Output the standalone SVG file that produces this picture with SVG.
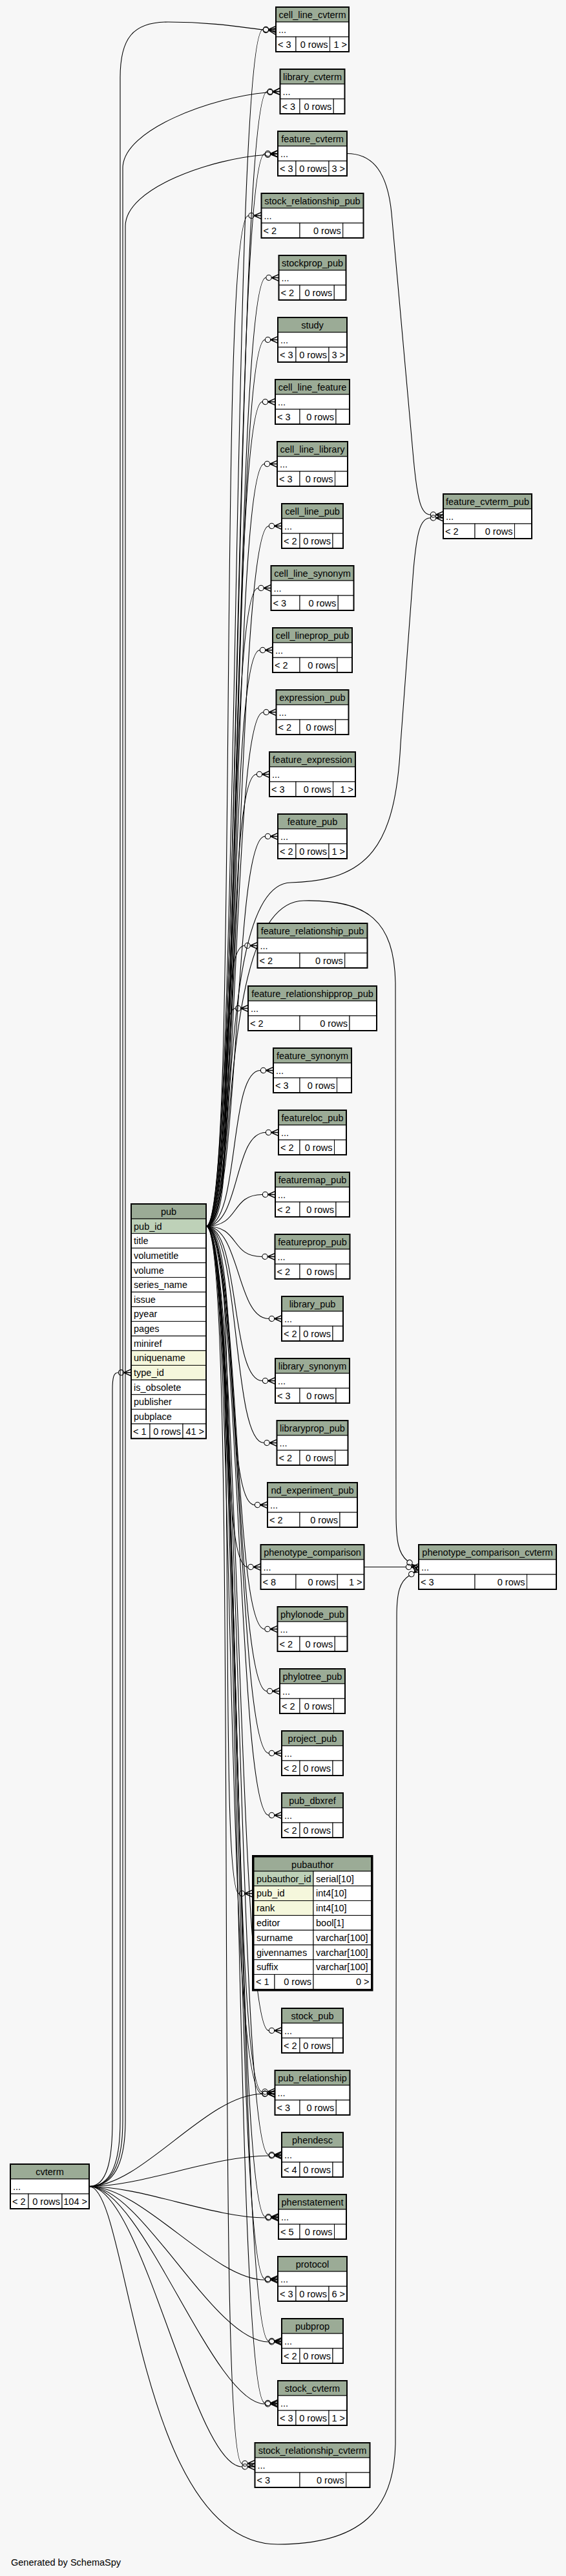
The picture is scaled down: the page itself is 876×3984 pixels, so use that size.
<svg xmlns="http://www.w3.org/2000/svg" width="876" height="3984" viewBox="0 0 876 3984">
<defs>
<style>
.h{fill:#9bab96;stroke:#000;stroke-width:1}
.w{fill:#fff;stroke:#000;stroke-width:1}
.k{fill:#bed1b8;stroke:#000;stroke-width:1}
.y{fill:#f5f7dc;stroke:#000;stroke-width:1}
.o{fill:none;stroke:#000;stroke-width:2}
text{font-family:"Liberation Sans",Arial,Helvetica,sans-serif;font-size:14.5px;fill:#000}
.c{text-anchor:middle}
.r{text-anchor:end}
.e{fill:none;stroke:#000;stroke-width:1.1;marker-end:url(#m)}
.p{fill:none;stroke:#000;stroke-width:1.1}
</style>
<marker id="m" markerUnits="userSpaceOnUse" markerWidth="22" markerHeight="14" refX="0" refY="7" orient="auto" overflow="visible">
<circle cx="4.5" cy="7" r="4.2" fill="none" stroke="#000" stroke-width="1.1"/>
<path d="M8.7,7 L20,1.8 M8.7,7 L20,7 M8.7,7 L20,12.2" fill="none" stroke="#000" stroke-width="1.4"/>
</marker>
</defs>
<rect x="0" y="0" width="876" height="3984" fill="#f7f7f7"/>

<g id="connectors">
<!-- pub edges -->
<path class="e" d="M319,1896.5 C372,1896.5 357,45.5 407,45.5"/>
<path class="e" d="M319,1896.5 C372,1896.5 363.5,141.5 413.5,141.5"/>
<path class="e" d="M319,1896.5 C372,1896.5 360,237.5 410,237.5"/>
<path class="e" d="M319,1896.5 C372,1896.5 334.5,333.5 384.5,333.5"/>
<path class="e" d="M319,1896.5 C372,1896.5 361.5,429.5 411.5,429.5"/>
<path class="e" d="M319,1896.5 C372,1896.5 360,525.5 410,525.5"/>
<path class="e" d="M319,1896.5 C372,1896.5 356,621.5 406,621.5"/>
<path class="e" d="M319,1896.5 C372,1896.5 359,717.5 409,717.5"/>
<path class="e" d="M319,1896.5 C372,1896.5 366,813.5 416,813.5"/>
<path class="e" d="M319,1896.5 C372,1896.5 349.5,909.5 399.5,909.5"/>
<path class="e" d="M319,1896.5 C372,1896.5 352,1005.5 402,1005.5"/>
<path class="e" d="M319,1896.5 C372,1896.5 357.5,1101.5 407.5,1101.5"/>
<path class="e" d="M319,1896.5 C372,1896.5 347,1197.5 397,1197.5"/>
<path class="e" d="M319,1896.5 C372,1896.5 360,1293.5 410,1293.5"/>
<path class="e" d="M319,1896.5 C372,1896.5 330,1462.5 378.5,1462.5"/>
<path class="e" d="M319,1896.5 C372,1896.5 330,1559.5 364,1559.5"/>
<path class="e" d="M319,1896.5 C372,1896.5 353,1655.5 403,1655.5"/>
<path class="e" d="M319,1896.5 C372,1896.5 361,1751.5 411,1751.5"/>
<path class="e" d="M319,1896.5 C372,1896.5 356,1847.5 406,1847.5"/>
<path class="e" d="M319,1896.5 C372,1896.5 355.5,1943.5 405.5,1943.5"/>
<path class="e" d="M319,1896.5 C372,1896.5 366,2039.5 416,2039.5"/>
<path class="e" d="M319,1896.5 C372,1896.5 356,2135.5 406,2135.5"/>
<path class="e" d="M319,1896.5 C372,1896.5 358.5,2231.5 408.5,2231.5"/>
<path class="e" d="M319,1896.5 C372,1896.5 344,2327.5 394,2327.5"/>
<path class="e" d="M319,1896.5 C372,1896.5 333.5,2423.5 383.5,2423.5"/>
<path class="e" d="M319,1896.5 C372,1896.5 359.5,2519.5 409.5,2519.5"/>
<path class="e" d="M319,1896.5 C372,1896.5 363,2615.5 413,2615.5"/>
<path class="e" d="M319,1896.5 C372,1896.5 366,2711.5 416,2711.5"/>
<path class="e" d="M319,1896.5 C372,1896.5 366,2807.5 416,2807.5"/>
<path class="e" d="M319,1896.5 C372,1896.5 335,2928.5 370,2928.5"/>
<path class="e" d="M319,1896.5 C372,1896.5 366,3140.5 416,3140.5"/>
<path class="e" d="M319,1896.5 C372,1896.5 355.5,3235 405.5,3235"/>
<path class="e" d="M319,1896.5 C365,1896.5 345,3238 405.5,3238"/>
<path class="e" d="M319,1896.5 C372,1896.5 366,3332.5 416,3332.5"/>
<path class="e" d="M319,1896.5 C372,1896.5 361,3428.5 411,3428.5"/>
<path class="e" d="M319,1896.5 C372,1896.5 360,3524.5 410,3524.5"/>
<path class="e" d="M319,1896.5 C372,1896.5 366,3620.5 416,3620.5"/>
<path class="e" d="M319,1896.5 C372,1896.5 360,3716.5 410,3716.5"/>
<path class="e" d="M319,1896.5 C372,1896.5 330,3810 374.5,3810"/>
<path class="e" d="M319,1896.5 C372,1896.5 330,1367 450,1365 C570,1362 612,1310 620,1150 L640,880 C645,825 650,801 666,801"/>
<path class="e" d="M319,1896.5 C372,1896.5 330,1395 470,1393 C570,1391 610,1425 612,1520 L613,2340 C613,2385 617,2403 630.5,2414"/>
<!-- cvterm edges -->
<path class="e" d="M138,3381.5 C170,3381.5 186,3350 186,3280 L186,120 C186,60 205,34 260,34 C330,34 380,43 407,46"/>
<path class="e" d="M138,3381.5 C172,3381.5 190,3350 190,3280 L190,260 C190,200 330,150 413.5,143"/>
<path class="e" d="M138,3381.5 C174,3381.5 194,3350 194,3280 L194,350 C194,290 330,245 410,239.5"/>
<path class="e" d="M138,3381.5 C166,3381.5 174,3340 174,3280 L174,2150 C174,2130 176,2122.8 183,2122.8"/>
<path class="e" d="M138,3381.5 C220,3381.5 320,3238.5 405.5,3238.5"/>
<path class="e" d="M138,3381.5 C220,3381.5 330,3334 416,3334"/>
<path class="e" d="M138,3381.5 C220,3381.5 330,3430 411,3430"/>
<path class="e" d="M138,3381.5 C220,3381.5 330,3526 410,3526"/>
<path class="e" d="M138,3381.5 C220,3381.5 330,3622 416,3622"/>
<path class="e" d="M138,3381.5 C220,3381.5 330,3718 410,3718"/>
<path class="e" d="M138,3381.5 C220,3381.5 300,3815 374.5,3815"/>
<path class="e" d="M138,3381.5 C200,3381.5 210,3935 430,3935 C560,3935 610,3880 612,3780 L614,2500 C614,2462 619,2446 633,2437"/>
<!-- other edges -->
<path class="e" d="M537,237.5 C578,237.5 600,268 606,330 L640,710 C646,775 652,796 666,796"/>
<path class="e" d="M563,2423.5 L628,2423.5"/>
</g>

<g id="t-cell_line_cvterm"><rect class="h" x="427" y="11" width="113" height="23"/><text class="c" x="483.5" y="28">cell_line_cvterm</text><rect class="w" x="427" y="34" width="113" height="23"/><text x="431" y="51">...</text><rect class="w" x="427" y="57" width="31" height="23"/><rect class="w" x="458" y="57" width="52.5" height="23"/><rect class="w" x="510.5" y="57" width="29.5" height="23"/><text x="430" y="74">&lt; 3</text><text class="r" x="507.5" y="74">0 rows</text><text class="r" x="537" y="74">1 &gt;</text><rect class="o" x="427" y="11" width="113" height="69"/></g>

<g id="t-library_cvterm"><rect class="h" x="433.5" y="107" width="100" height="23"/><text class="c" x="483.5" y="124">library_cvterm</text><rect class="w" x="433.5" y="130" width="100" height="23"/><text x="437.5" y="147">...</text><rect class="w" x="433.5" y="153" width="30.5" height="23"/><rect class="w" x="464" y="153" width="52.25" height="23"/><rect class="w" x="516.25" y="153" width="17.25" height="23"/><text x="436.5" y="170">&lt; 3</text><text class="r" x="513.25" y="170">0 rows</text><rect class="o" x="433.5" y="107" width="100" height="69"/></g>

<g id="t-feature_cvterm"><rect class="h" x="430" y="203" width="107" height="23"/><text class="c" x="483.5" y="220">feature_cvterm</text><rect class="w" x="430" y="226" width="107" height="23"/><text x="434" y="243">...</text><rect class="w" x="430" y="249" width="28" height="23"/><rect class="w" x="458" y="249" width="51" height="23"/><rect class="w" x="509" y="249" width="28" height="23"/><text x="433" y="266">&lt; 3</text><text class="r" x="506" y="266">0 rows</text><text class="r" x="534" y="266">3 &gt;</text><rect class="o" x="430" y="203" width="107" height="69"/></g>

<g id="t-stock_relationship_pub"><rect class="h" x="404.5" y="299" width="158" height="23"/><text class="c" x="483.5" y="316">stock_relationship_pub</text><rect class="w" x="404.5" y="322" width="158" height="23"/><text x="408.5" y="339">...</text><rect class="w" x="404.5" y="345" width="59.5" height="23"/><rect class="w" x="464" y="345" width="66.75" height="23"/><rect class="w" x="530.75" y="345" width="31.75" height="23"/><text x="407.5" y="362">&lt; 2</text><text class="r" x="527.75" y="362">0 rows</text><rect class="o" x="404.5" y="299" width="158" height="69"/></g>

<g id="t-stockprop_pub"><rect class="h" x="431.5" y="395" width="104" height="23"/><text class="c" x="483.5" y="412">stockprop_pub</text><rect class="w" x="431.5" y="418" width="104" height="23"/><text x="435.5" y="435">...</text><rect class="w" x="431.5" y="441" width="32.5" height="23"/><rect class="w" x="464" y="441" width="53.25" height="23"/><rect class="w" x="517.25" y="441" width="18.25" height="23"/><text x="434.5" y="458">&lt; 2</text><text class="r" x="514.25" y="458">0 rows</text><rect class="o" x="431.5" y="395" width="104" height="69"/></g>

<g id="t-study"><rect class="h" x="430" y="491" width="107" height="23"/><text class="c" x="483.5" y="508">study</text><rect class="w" x="430" y="514" width="107" height="23"/><text x="434" y="531">...</text><rect class="w" x="430" y="537" width="28" height="23"/><rect class="w" x="458" y="537" width="51" height="23"/><rect class="w" x="509" y="537" width="28" height="23"/><text x="433" y="554">&lt; 3</text><text class="r" x="506" y="554">0 rows</text><text class="r" x="534" y="554">3 &gt;</text><rect class="o" x="430" y="491" width="107" height="69"/></g>

<g id="t-cell_line_feature"><rect class="h" x="426" y="587" width="115" height="23"/><text class="c" x="483.5" y="604">cell_line_feature</text><rect class="w" x="426" y="610" width="115" height="23"/><text x="430" y="627">...</text><rect class="w" x="426" y="633" width="38" height="23"/><rect class="w" x="464" y="633" width="56" height="23"/><rect class="w" x="520" y="633" width="21" height="23"/><text x="429" y="650">&lt; 3</text><text class="r" x="517" y="650">0 rows</text><rect class="o" x="426" y="587" width="115" height="69"/></g>

<g id="t-cell_line_library"><rect class="h" x="429" y="683" width="109" height="23"/><text class="c" x="483.5" y="700">cell_line_library</text><rect class="w" x="429" y="706" width="109" height="23"/><text x="433" y="723">...</text><rect class="w" x="429" y="729" width="35" height="23"/><rect class="w" x="464" y="729" width="54.5" height="23"/><rect class="w" x="518.5" y="729" width="19.5" height="23"/><text x="432" y="746">&lt; 3</text><text class="r" x="515.5" y="746">0 rows</text><rect class="o" x="429" y="683" width="109" height="69"/></g>

<g id="t-cell_line_pub"><rect class="h" x="436" y="779" width="95" height="23"/><text class="c" x="483.5" y="796">cell_line_pub</text><rect class="w" x="436" y="802" width="95" height="23"/><text x="440" y="819">...</text><rect class="w" x="436" y="825" width="28" height="23"/><rect class="w" x="464" y="825" width="51" height="23"/><rect class="w" x="515" y="825" width="16" height="23"/><text x="439" y="842">&lt; 2</text><text class="r" x="512" y="842">0 rows</text><rect class="o" x="436" y="779" width="95" height="69"/></g>

<g id="t-cell_line_synonym"><rect class="h" x="419.5" y="875" width="128" height="23"/><text class="c" x="483.5" y="892">cell_line_synonym</text><rect class="w" x="419.5" y="898" width="128" height="23"/><text x="423.5" y="915">...</text><rect class="w" x="419.5" y="921" width="44.5" height="23"/><rect class="w" x="464" y="921" width="59.25" height="23"/><rect class="w" x="523.25" y="921" width="24.25" height="23"/><text x="422.5" y="938">&lt; 3</text><text class="r" x="520.25" y="938">0 rows</text><rect class="o" x="419.5" y="875" width="128" height="69"/></g>

<g id="t-cell_lineprop_pub"><rect class="h" x="422" y="971" width="123" height="23"/><text class="c" x="483.5" y="988">cell_lineprop_pub</text><rect class="w" x="422" y="994" width="123" height="23"/><text x="426" y="1011">...</text><rect class="w" x="422" y="1017" width="42" height="23"/><rect class="w" x="464" y="1017" width="58" height="23"/><rect class="w" x="522" y="1017" width="23" height="23"/><text x="425" y="1034">&lt; 2</text><text class="r" x="519" y="1034">0 rows</text><rect class="o" x="422" y="971" width="123" height="69"/></g>

<g id="t-expression_pub"><rect class="h" x="427.5" y="1067" width="112" height="23"/><text class="c" x="483.5" y="1084">expression_pub</text><rect class="w" x="427.5" y="1090" width="112" height="23"/><text x="431.5" y="1107">...</text><rect class="w" x="427.5" y="1113" width="36.5" height="23"/><rect class="w" x="464" y="1113" width="55.25" height="23"/><rect class="w" x="519.25" y="1113" width="20.25" height="23"/><text x="430.5" y="1130">&lt; 2</text><text class="r" x="516.25" y="1130">0 rows</text><rect class="o" x="427.5" y="1067" width="112" height="69"/></g>

<g id="t-feature_expression"><rect class="h" x="417" y="1163" width="133" height="23"/><text class="c" x="483.5" y="1180">feature_expression</text><rect class="w" x="417" y="1186" width="133" height="23"/><text x="421" y="1203">...</text><rect class="w" x="417" y="1209" width="41" height="23"/><rect class="w" x="458" y="1209" width="57.5" height="23"/><rect class="w" x="515.5" y="1209" width="34.5" height="23"/><text x="420" y="1226">&lt; 3</text><text class="r" x="512.5" y="1226">0 rows</text><text class="r" x="547" y="1226">1 &gt;</text><rect class="o" x="417" y="1163" width="133" height="69"/></g>

<g id="t-feature_pub"><rect class="h" x="430" y="1259" width="107" height="23"/><text class="c" x="483.5" y="1276">feature_pub</text><rect class="w" x="430" y="1282" width="107" height="23"/><text x="434" y="1299">...</text><rect class="w" x="430" y="1305" width="28" height="23"/><rect class="w" x="458" y="1305" width="51" height="23"/><rect class="w" x="509" y="1305" width="28" height="23"/><text x="433" y="1322">&lt; 2</text><text class="r" x="506" y="1322">0 rows</text><text class="r" x="534" y="1322">1 &gt;</text><rect class="o" x="430" y="1259" width="107" height="69"/></g>

<g id="t-feature_relationship_pub"><rect class="h" x="398.5" y="1428" width="170" height="23"/><text class="c" x="483.5" y="1445">feature_relationship_pub</text><rect class="w" x="398.5" y="1451" width="170" height="23"/><text x="402.5" y="1468">...</text><rect class="w" x="398.5" y="1474" width="65.5" height="23"/><rect class="w" x="464" y="1474" width="69.75" height="23"/><rect class="w" x="533.75" y="1474" width="34.75" height="23"/><text x="401.5" y="1491">&lt; 2</text><text class="r" x="530.75" y="1491">0 rows</text><rect class="o" x="398.5" y="1428" width="170" height="69"/></g>

<g id="t-feature_relationshipprop_pub"><rect class="h" x="384" y="1525" width="199" height="23"/><text class="c" x="483.5" y="1542">feature_relationshipprop_pub</text><rect class="w" x="384" y="1548" width="199" height="23"/><text x="388" y="1565">...</text><rect class="w" x="384" y="1571" width="80" height="23"/><rect class="w" x="464" y="1571" width="77" height="23"/><rect class="w" x="541" y="1571" width="42" height="23"/><text x="387" y="1588">&lt; 2</text><text class="r" x="538" y="1588">0 rows</text><rect class="o" x="384" y="1525" width="199" height="69"/></g>

<g id="t-feature_synonym"><rect class="h" x="423" y="1621" width="121" height="23"/><text class="c" x="483.5" y="1638">feature_synonym</text><rect class="w" x="423" y="1644" width="121" height="23"/><text x="427" y="1661">...</text><rect class="w" x="423" y="1667" width="41" height="23"/><rect class="w" x="464" y="1667" width="57.5" height="23"/><rect class="w" x="521.5" y="1667" width="22.5" height="23"/><text x="426" y="1684">&lt; 3</text><text class="r" x="518.5" y="1684">0 rows</text><rect class="o" x="423" y="1621" width="121" height="69"/></g>

<g id="t-featureloc_pub"><rect class="h" x="431" y="1717" width="105" height="23"/><text class="c" x="483.5" y="1734">featureloc_pub</text><rect class="w" x="431" y="1740" width="105" height="23"/><text x="435" y="1757">...</text><rect class="w" x="431" y="1763" width="33" height="23"/><rect class="w" x="464" y="1763" width="53.5" height="23"/><rect class="w" x="517.5" y="1763" width="18.5" height="23"/><text x="434" y="1780">&lt; 2</text><text class="r" x="514.5" y="1780">0 rows</text><rect class="o" x="431" y="1717" width="105" height="69"/></g>

<g id="t-featuremap_pub"><rect class="h" x="426" y="1813" width="115" height="23"/><text class="c" x="483.5" y="1830">featuremap_pub</text><rect class="w" x="426" y="1836" width="115" height="23"/><text x="430" y="1853">...</text><rect class="w" x="426" y="1859" width="38" height="23"/><rect class="w" x="464" y="1859" width="56" height="23"/><rect class="w" x="520" y="1859" width="21" height="23"/><text x="429" y="1876">&lt; 2</text><text class="r" x="517" y="1876">0 rows</text><rect class="o" x="426" y="1813" width="115" height="69"/></g>

<g id="t-featureprop_pub"><rect class="h" x="425.5" y="1909" width="116" height="23"/><text class="c" x="483.5" y="1926">featureprop_pub</text><rect class="w" x="425.5" y="1932" width="116" height="23"/><text x="429.5" y="1949">...</text><rect class="w" x="425.5" y="1955" width="38.5" height="23"/><rect class="w" x="464" y="1955" width="56.25" height="23"/><rect class="w" x="520.25" y="1955" width="21.25" height="23"/><text x="428.5" y="1972">&lt; 2</text><text class="r" x="517.25" y="1972">0 rows</text><rect class="o" x="425.5" y="1909" width="116" height="69"/></g>

<g id="t-library_pub"><rect class="h" x="436" y="2005" width="95" height="23"/><text class="c" x="483.5" y="2022">library_pub</text><rect class="w" x="436" y="2028" width="95" height="23"/><text x="440" y="2045">...</text><rect class="w" x="436" y="2051" width="28" height="23"/><rect class="w" x="464" y="2051" width="51" height="23"/><rect class="w" x="515" y="2051" width="16" height="23"/><text x="439" y="2068">&lt; 2</text><text class="r" x="512" y="2068">0 rows</text><rect class="o" x="436" y="2005" width="95" height="69"/></g>

<g id="t-library_synonym"><rect class="h" x="426" y="2101" width="115" height="23"/><text class="c" x="483.5" y="2118">library_synonym</text><rect class="w" x="426" y="2124" width="115" height="23"/><text x="430" y="2141">...</text><rect class="w" x="426" y="2147" width="38" height="23"/><rect class="w" x="464" y="2147" width="56" height="23"/><rect class="w" x="520" y="2147" width="21" height="23"/><text x="429" y="2164">&lt; 3</text><text class="r" x="517" y="2164">0 rows</text><rect class="o" x="426" y="2101" width="115" height="69"/></g>

<g id="t-libraryprop_pub"><rect class="h" x="428.5" y="2197" width="110" height="23"/><text class="c" x="483.5" y="2214">libraryprop_pub</text><rect class="w" x="428.5" y="2220" width="110" height="23"/><text x="432.5" y="2237">...</text><rect class="w" x="428.5" y="2243" width="35.5" height="23"/><rect class="w" x="464" y="2243" width="54.75" height="23"/><rect class="w" x="518.75" y="2243" width="19.75" height="23"/><text x="431.5" y="2260">&lt; 2</text><text class="r" x="515.75" y="2260">0 rows</text><rect class="o" x="428.5" y="2197" width="110" height="69"/></g>

<g id="t-nd_experiment_pub"><rect class="h" x="414" y="2293" width="139" height="23"/><text class="c" x="483.5" y="2310">nd_experiment_pub</text><rect class="w" x="414" y="2316" width="139" height="23"/><text x="418" y="2333">...</text><rect class="w" x="414" y="2339" width="50" height="23"/><rect class="w" x="464" y="2339" width="62" height="23"/><rect class="w" x="526" y="2339" width="27" height="23"/><text x="417" y="2356">&lt; 2</text><text class="r" x="523" y="2356">0 rows</text><rect class="o" x="414" y="2293" width="139" height="69"/></g>

<g id="t-phenotype_comparison"><rect class="h" x="403.5" y="2389" width="160" height="23"/><text class="c" x="483.5" y="2406">phenotype_comparison</text><rect class="w" x="403.5" y="2412" width="160" height="23"/><text x="407.5" y="2429">...</text><rect class="w" x="403.5" y="2435" width="54.5" height="23"/><rect class="w" x="458" y="2435" width="64.25" height="23"/><rect class="w" x="522.25" y="2435" width="41.25" height="23"/><text x="406.5" y="2452">&lt; 8</text><text class="r" x="519.25" y="2452">0 rows</text><text class="r" x="560.5" y="2452">1 &gt;</text><rect class="o" x="403.5" y="2389" width="160" height="69"/></g>

<g id="t-phylonode_pub"><rect class="h" x="429.5" y="2485" width="108" height="23"/><text class="c" x="483.5" y="2502">phylonode_pub</text><rect class="w" x="429.5" y="2508" width="108" height="23"/><text x="433.5" y="2525">...</text><rect class="w" x="429.5" y="2531" width="34.5" height="23"/><rect class="w" x="464" y="2531" width="54.25" height="23"/><rect class="w" x="518.25" y="2531" width="19.25" height="23"/><text x="432.5" y="2548">&lt; 2</text><text class="r" x="515.25" y="2548">0 rows</text><rect class="o" x="429.5" y="2485" width="108" height="69"/></g>

<g id="t-phylotree_pub"><rect class="h" x="433" y="2581" width="101" height="23"/><text class="c" x="483.5" y="2598">phylotree_pub</text><rect class="w" x="433" y="2604" width="101" height="23"/><text x="437" y="2621">...</text><rect class="w" x="433" y="2627" width="31" height="23"/><rect class="w" x="464" y="2627" width="52.5" height="23"/><rect class="w" x="516.5" y="2627" width="17.5" height="23"/><text x="436" y="2644">&lt; 2</text><text class="r" x="513.5" y="2644">0 rows</text><rect class="o" x="433" y="2581" width="101" height="69"/></g>

<g id="t-project_pub"><rect class="h" x="436" y="2677" width="95" height="23"/><text class="c" x="483.5" y="2694">project_pub</text><rect class="w" x="436" y="2700" width="95" height="23"/><text x="440" y="2717">...</text><rect class="w" x="436" y="2723" width="28" height="23"/><rect class="w" x="464" y="2723" width="51" height="23"/><rect class="w" x="515" y="2723" width="16" height="23"/><text x="439" y="2740">&lt; 2</text><text class="r" x="512" y="2740">0 rows</text><rect class="o" x="436" y="2677" width="95" height="69"/></g>

<g id="t-pub_dbxref"><rect class="h" x="436" y="2773" width="95" height="23"/><text class="c" x="483.5" y="2790">pub_dbxref</text><rect class="w" x="436" y="2796" width="95" height="23"/><text x="440" y="2813">...</text><rect class="w" x="436" y="2819" width="28" height="23"/><rect class="w" x="464" y="2819" width="51" height="23"/><rect class="w" x="515" y="2819" width="16" height="23"/><text x="439" y="2836">&lt; 2</text><text class="r" x="512" y="2836">0 rows</text><rect class="o" x="436" y="2773" width="95" height="69"/></g>

<g id="t-pubauthor">
<rect class="h" x="393" y="2872" width="181.5" height="22"/><text class="c" x="483.75" y="2888.5">pubauthor</text>
<rect class="k" x="393" y="2894" width="92" height="22.8"/><rect class="w" x="485" y="2894" width="89.5" height="22.8"/>
<text x="397" y="2910.5">pubauthor_id</text><text x="489" y="2910.5">serial[10]</text>
<rect class="y" x="393" y="2916.8" width="92" height="22.8"/><rect class="w" x="485" y="2916.8" width="89.5" height="22.8"/>
<text x="397" y="2933.3">pub_id</text><text x="489" y="2933.3">int4[10]</text>
<rect class="y" x="393" y="2939.6" width="92" height="22.8"/><rect class="w" x="485" y="2939.6" width="89.5" height="22.8"/>
<text x="397" y="2956.1">rank</text><text x="489" y="2956.1">int4[10]</text>
<rect class="w" x="393" y="2962.4" width="92" height="22.8"/><rect class="w" x="485" y="2962.4" width="89.5" height="22.8"/>
<text x="397" y="2978.9">editor</text><text x="489" y="2978.9">bool[1]</text>
<rect class="w" x="393" y="2985.2" width="92" height="22.8"/><rect class="w" x="485" y="2985.2" width="89.5" height="22.8"/>
<text x="397" y="3001.7">surname</text><text x="489" y="3001.7">varchar[100]</text>
<rect class="w" x="393" y="3008" width="92" height="22.8"/><rect class="w" x="485" y="3008" width="89.5" height="22.8"/>
<text x="397" y="3024.5">givennames</text><text x="489" y="3024.5">varchar[100]</text>
<rect class="w" x="393" y="3030.8" width="92" height="22.8"/><rect class="w" x="485" y="3030.8" width="89.5" height="22.8"/>
<text x="397" y="3047.3">suffix</text><text x="489" y="3047.3">varchar[100]</text>
<rect class="w" x="393" y="3053.6" width="32" height="22.8"/><rect class="w" x="425" y="3053.6" width="60" height="22.8"/><rect class="w" x="485" y="3053.6" width="89.5" height="22.8"/>
<text x="396" y="3070.1">&lt; 1</text><text class="r" x="482" y="3070.1">0 rows</text><text class="r" x="571.5" y="3070.1">0 &gt;</text>
<rect fill="none" stroke="#000" stroke-width="3" x="391.5" y="2870.5" width="184.5" height="207.5"/>
</g>

<g id="t-stock_pub"><rect class="h" x="436" y="3106" width="95" height="23"/><text class="c" x="483.5" y="3123">stock_pub</text><rect class="w" x="436" y="3129" width="95" height="23"/><text x="440" y="3146">...</text><rect class="w" x="436" y="3152" width="28" height="23"/><rect class="w" x="464" y="3152" width="51" height="23"/><rect class="w" x="515" y="3152" width="16" height="23"/><text x="439" y="3169">&lt; 2</text><text class="r" x="512" y="3169">0 rows</text><rect class="o" x="436" y="3106" width="95" height="69"/></g>

<g id="t-pub_relationship"><rect class="h" x="425.5" y="3202" width="116" height="23"/><text class="c" x="483.5" y="3219">pub_relationship</text><rect class="w" x="425.5" y="3225" width="116" height="23"/><text x="429.5" y="3242">...</text><rect class="w" x="425.5" y="3248" width="38.5" height="23"/><rect class="w" x="464" y="3248" width="56.25" height="23"/><rect class="w" x="520.25" y="3248" width="21.25" height="23"/><text x="428.5" y="3265">&lt; 3</text><text class="r" x="517.25" y="3265">0 rows</text><rect class="o" x="425.5" y="3202" width="116" height="69"/></g>

<g id="t-phendesc"><rect class="h" x="436" y="3298" width="95" height="23"/><text class="c" x="483.5" y="3315">phendesc</text><rect class="w" x="436" y="3321" width="95" height="23"/><text x="440" y="3338">...</text><rect class="w" x="436" y="3344" width="28" height="23"/><rect class="w" x="464" y="3344" width="51" height="23"/><rect class="w" x="515" y="3344" width="16" height="23"/><text x="439" y="3361">&lt; 4</text><text class="r" x="512" y="3361">0 rows</text><rect class="o" x="436" y="3298" width="95" height="69"/></g>

<g id="t-phenstatement"><rect class="h" x="431" y="3394" width="105" height="23"/><text class="c" x="483.5" y="3411">phenstatement</text><rect class="w" x="431" y="3417" width="105" height="23"/><text x="435" y="3434">...</text><rect class="w" x="431" y="3440" width="33" height="23"/><rect class="w" x="464" y="3440" width="53.5" height="23"/><rect class="w" x="517.5" y="3440" width="18.5" height="23"/><text x="434" y="3457">&lt; 5</text><text class="r" x="514.5" y="3457">0 rows</text><rect class="o" x="431" y="3394" width="105" height="69"/></g>

<g id="t-protocol"><rect class="h" x="430" y="3490" width="107" height="23"/><text class="c" x="483.5" y="3507">protocol</text><rect class="w" x="430" y="3513" width="107" height="23"/><text x="434" y="3530">...</text><rect class="w" x="430" y="3536" width="28" height="23"/><rect class="w" x="458" y="3536" width="51" height="23"/><rect class="w" x="509" y="3536" width="28" height="23"/><text x="433" y="3553">&lt; 3</text><text class="r" x="506" y="3553">0 rows</text><text class="r" x="534" y="3553">6 &gt;</text><rect class="o" x="430" y="3490" width="107" height="69"/></g>

<g id="t-pubprop"><rect class="h" x="436" y="3586" width="95" height="23"/><text class="c" x="483.5" y="3603">pubprop</text><rect class="w" x="436" y="3609" width="95" height="23"/><text x="440" y="3626">...</text><rect class="w" x="436" y="3632" width="28" height="23"/><rect class="w" x="464" y="3632" width="51" height="23"/><rect class="w" x="515" y="3632" width="16" height="23"/><text x="439" y="3649">&lt; 2</text><text class="r" x="512" y="3649">0 rows</text><rect class="o" x="436" y="3586" width="95" height="69"/></g>

<g id="t-stock_cvterm"><rect class="h" x="430" y="3682" width="107" height="23"/><text class="c" x="483.5" y="3699">stock_cvterm</text><rect class="w" x="430" y="3705" width="107" height="23"/><text x="434" y="3722">...</text><rect class="w" x="430" y="3728" width="28" height="23"/><rect class="w" x="458" y="3728" width="51" height="23"/><rect class="w" x="509" y="3728" width="28" height="23"/><text x="433" y="3745">&lt; 3</text><text class="r" x="506" y="3745">0 rows</text><text class="r" x="534" y="3745">1 &gt;</text><rect class="o" x="430" y="3682" width="107" height="69"/></g>

<g id="t-stock_relationship_cvterm"><rect class="h" x="394.5" y="3778" width="178" height="23"/><text class="c" x="483.5" y="3795">stock_relationship_cvterm</text><rect class="w" x="394.5" y="3801" width="178" height="23"/><text x="398.5" y="3818">...</text><rect class="w" x="394.5" y="3824" width="69.5" height="23"/><rect class="w" x="464" y="3824" width="71.75" height="23"/><rect class="w" x="535.75" y="3824" width="36.75" height="23"/><text x="397.5" y="3841">&lt; 3</text><text class="r" x="532.75" y="3841">0 rows</text><rect class="o" x="394.5" y="3778" width="178" height="69"/></g>

<g id="t-feature_cvterm_pub"><rect class="h" x="686" y="764" width="137" height="23"/><text class="c" x="754.5" y="781">feature_cvterm_pub</text><rect class="w" x="686" y="787" width="137" height="23"/><text x="690" y="804">...</text><rect class="w" x="686" y="810" width="49" height="23"/><rect class="w" x="735" y="810" width="61.5" height="23"/><rect class="w" x="796.5" y="810" width="26.5" height="23"/><text x="689" y="827">&lt; 2</text><text class="r" x="793.5" y="827">0 rows</text><rect class="o" x="686" y="764" width="137" height="69"/></g>

<g id="t-phenotype_comparison_cvterm"><rect class="h" x="648" y="2389" width="213" height="23"/><text class="c" x="754.5" y="2406">phenotype_comparison_cvterm</text><rect class="w" x="648" y="2412" width="213" height="23"/><text x="652" y="2429">...</text><rect class="w" x="648" y="2435" width="87" height="23"/><rect class="w" x="735" y="2435" width="80.5" height="23"/><rect class="w" x="815.5" y="2435" width="45.5" height="23"/><text x="651" y="2452">&lt; 3</text><text class="r" x="812.5" y="2452">0 rows</text><rect class="o" x="648" y="2389" width="213" height="69"/></g>

<g id="t-pub">
<rect class="h" x="203" y="1862" width="116" height="23"/><text class="c" x="261" y="1879">pub</text>
<rect class="k" x="203" y="1885" width="116" height="22.65"/><text x="207" y="1901.5">pub_id</text>
<rect class="w" x="203" y="1907.65" width="116" height="22.65"/><text x="207" y="1924.2">title</text>
<rect class="w" x="203" y="1930.3" width="116" height="22.65"/><text x="207" y="1946.8">volumetitle</text>
<rect class="w" x="203" y="1952.95" width="116" height="22.65"/><text x="207" y="1969.5">volume</text>
<rect class="w" x="203" y="1975.6" width="116" height="22.65"/><text x="207" y="1992.1">series_name</text>
<rect class="w" x="203" y="1998.25" width="116" height="22.65"/><text x="207" y="2014.8">issue</text>
<rect class="w" x="203" y="2020.9" width="116" height="22.65"/><text x="207" y="2037.4">pyear</text>
<rect class="w" x="203" y="2043.55" width="116" height="22.65"/><text x="207" y="2060.1">pages</text>
<rect class="w" x="203" y="2066.2" width="116" height="22.65"/><text x="207" y="2082.7">miniref</text>
<rect class="y" x="203" y="2088.85" width="116" height="22.65"/><text x="207" y="2105.4">uniquename</text>
<rect class="y" x="203" y="2111.5" width="116" height="22.65"/><text x="207" y="2128">type_id</text>
<rect class="w" x="203" y="2134.15" width="116" height="22.65"/><text x="207" y="2150.7">is_obsolete</text>
<rect class="w" x="203" y="2156.8" width="116" height="22.65"/><text x="207" y="2173.3">publisher</text>
<rect class="w" x="203" y="2179.45" width="116" height="22.65"/><text x="207" y="2196">pubplace</text>
<rect class="w" x="203" y="2202.1" width="29" height="22.65"/><rect class="w" x="232" y="2202.1" width="51" height="22.65"/><rect class="w" x="283" y="2202.1" width="36" height="22.65"/>
<text x="206" y="2218.6">&lt; 1</text><text class="r" x="280" y="2218.6">0 rows</text><text class="r" x="316" y="2218.6">41 &gt;</text>
<rect class="o" x="203" y="1862" width="116" height="362.75"/>
</g>

<g id="t-cvterm"><rect class="h" x="16" y="3347" width="122" height="23"/><text class="c" x="77" y="3364">cvterm</text><rect class="w" x="16" y="3370" width="122" height="23"/><text x="20" y="3387">...</text><rect class="w" x="16" y="3393" width="28" height="23"/><rect class="w" x="44" y="3393" width="52" height="23"/><rect class="w" x="96" y="3393" width="42" height="23"/><text x="19" y="3410">&lt; 2</text><text class="r" x="93" y="3410">0 rows</text><text class="r" x="135" y="3410">104 &gt;</text><rect class="o" x="16" y="3347" width="122" height="69"/></g>

<text x="17" y="3968">Generated by SchemaSpy</text>
</svg>
